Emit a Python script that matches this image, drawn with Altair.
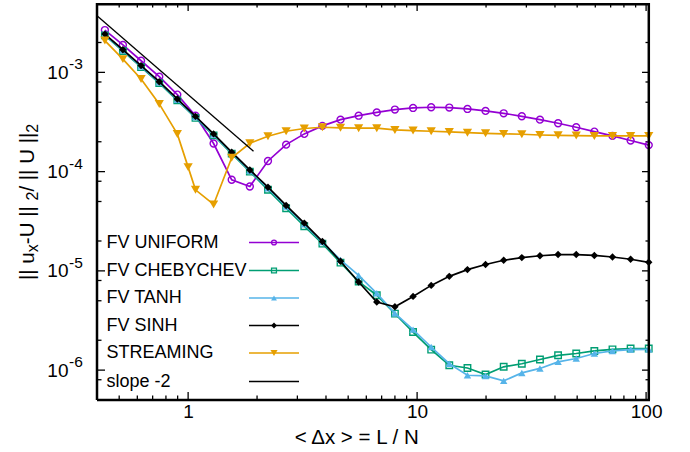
import altair as alt
import pandas as pd

# ---------------- data ----------------
x_grid = [0.433, 0.519, 0.623, 0.748, 0.897, 1.077, 1.292, 1.550, 1.860, 2.232,
          2.679, 3.215, 3.858, 4.629, 5.555, 6.666, 8.00, 9.60, 11.52, 13.82,
          16.59, 19.90, 23.88, 28.66, 34.39, 41.27, 49.53, 59.43, 71.32, 85.58, 102.7]
x_stream = [0.433, 0.519, 0.623, 0.748, 0.897, 1.0, 1.077, 1.292, 1.550, 1.860, 2.232,
            2.679, 3.215, 3.858, 4.629, 5.555, 6.666, 8.00, 9.60, 11.52, 13.82,
            16.59, 19.90, 23.88, 28.66, 34.39, 41.27, 49.53, 59.43, 71.32, 85.58, 102.7]

fv_uniform = [2.67e-3, 1.89e-3, 1.31e-3, 9.05e-4, 5.97e-4, 3.66e-4, 1.92e-4, 8.28e-5, 7.08e-5, 1.28e-4,
              1.87e-4, 2.40e-4, 2.89e-4, 3.34e-4, 3.66e-4, 3.95e-4, 4.22e-4, 4.38e-4, 4.45e-4, 4.42e-4,
              4.28e-4, 4.09e-4, 3.87e-4, 3.61e-4, 3.34e-4, 3.07e-4, 2.80e-4, 2.53e-4, 2.29e-4, 2.06e-4, 1.85e-4]
fv_cheby = [2.36e-3, 1.64e-3, 1.13e-3, 7.80e-4, 5.22e-4, 3.48e-4, 2.32e-4, 1.52e-4, 1.00e-4, 6.56e-5,
            4.28e-5, 2.82e-5, 1.88e-5, 1.21e-5, 7.80e-6, 5.68e-6, 3.71e-6, 2.42e-6, 1.61e-6, 1.12e-6,
            1.05e-6, 9.03e-7, 1.08e-6, 1.16e-6, 1.28e-6, 1.41e-6, 1.47e-6, 1.56e-6, 1.62e-6, 1.65e-6, 1.65e-6]
fv_tanh = [2.40e-3, 1.67e-3, 1.15e-3, 7.95e-4, 5.30e-4, 3.54e-4, 2.36e-4, 1.55e-4, 1.02e-4, 6.80e-5,
           4.45e-5, 2.95e-5, 1.95e-5, 1.29e-5, 9.00e-6, 5.94e-6, 3.73e-6, 2.56e-6, 1.71e-6, 1.16e-6,
           8.88e-7, 8.74e-7, 7.79e-7, 9.37e-7, 1.04e-6, 1.21e-6, 1.31e-6, 1.47e-6, 1.56e-6, 1.61e-6, 1.62e-6]
fv_sinh = [2.43e-3, 1.69e-3, 1.17e-3, 8.06e-4, 5.40e-4, 3.60e-4, 2.40e-4, 1.57e-4, 1.04e-4, 6.97e-5,
           4.56e-5, 3.03e-5, 1.98e-5, 1.25e-5, 7.73e-6, 4.85e-6, 4.35e-6, 5.53e-6, 7.14e-6, 8.81e-6,
           1.03e-5, 1.16e-5, 1.28e-5, 1.36e-5, 1.42e-5, 1.46e-5, 1.46e-5, 1.43e-5, 1.38e-5, 1.31e-5, 1.22e-5]
streaming = [2.09e-3, 1.36e-3, 8.59e-4, 4.81e-4, 2.40e-4, 1.11e-4, 6.56e-5, 4.67e-5, 1.38e-4, 1.93e-4,
             2.27e-4, 2.55e-4, 2.72e-4, 2.80e-4, 2.76e-4, 2.74e-4, 2.74e-4, 2.63e-4, 2.59e-4, 2.55e-4,
             2.51e-4, 2.47e-4, 2.43e-4, 2.40e-4, 2.38e-4, 2.34e-4, 2.32e-4, 2.31e-4, 2.29e-4, 2.29e-4,
             2.29e-4, 2.29e-4]
slope_x = [0.4, 1.93]
slope_y = [3.72e-3, 1.60e-4]

names = ["FV UNIFORM", "FV CHEBYCHEV", "FV TANH", "FV SINH", "STREAMING", "slope -2"]
colors = ["#9400d3", "#009e73", "#56b4e9", "#000000", "#e69f00", "#000000"]
shapes = ["circle", "square", "triangle-up", "diamond", "triangle-down"]
filled = [False, False, True, True, True]
sizes = [48, 42, 55, 55, 85]
legend_sizes = [24, 24, 34, 34, 50]

x_major = [1, 10, 100]
x_minor = [0.5, 0.6, 0.7, 0.8, 0.9, 2, 3, 4, 5, 6, 7, 8, 9, 20, 30, 40, 50, 60, 70, 80, 90]
y_major = [1e-3, 1e-4, 1e-5, 1e-6]
y_exp = ["-3", "-4", "-5", "-6"]
y_minor = [2e-3, 8e-4, 5e-4, 2e-4, 8e-5, 5e-5, 2e-5, 8e-6, 5e-6, 2e-6, 8e-7]

FONT = "Liberation Sans"
W, H = 553, 397
xs = alt.Scale(type="log", domain=[0.4, 104], nice=False)
ys = alt.Scale(type="log", domain=[5e-7, 5e-3], nice=False)

X_AX = alt.Axis(values=x_major, format="~g", title=None, grid=False, domain=False, ticks=False,
                tickSize=0, labelPadding=2, labelFontSize=19, labelFont=FONT, labelColor="black")
Y_AX = alt.Axis(values=y_major, labelExpr="'10'", title=None, grid=False, domain=False, ticks=False,
                tickSize=0, labelPadding=29, labelFontSize=19, labelFont=FONT, labelColor="black")


def X(field):
    return alt.X(field, type="quantitative", scale=xs, axis=X_AX)


def Y(field):
    return alt.Y(field, type="quantitative", scale=ys, axis=Y_AX)


layers = []
one = pd.DataFrame({"k": [0]})

# exponents of y tick labels
layers.append(
    alt.Chart(pd.DataFrame({"y": y_major, "t": y_exp})).mark_text(
        align="left", baseline="middle", font=FONT, fontSize=15.5, dy=-8, color="black"
    ).encode(x=alt.value(-28), y=Y("y"), text="t:N")
)


# ticks (inward, mirrored on all sides)
def xticks(vals, ln):
    d = pd.DataFrame({"v": vals})
    b = alt.Chart(d).mark_rule(color="black", strokeWidth=1.3, opacity=1)
    return [b.encode(x=X("v"), y=alt.value(H - 1), y2=alt.value(H - ln)),
            b.encode(x=X("v"), y=alt.value(1), y2=alt.value(ln))]


def yticks(vals, ln):
    d = pd.DataFrame({"v": vals})
    b = alt.Chart(d).mark_rule(color="black", strokeWidth=1.3, opacity=1)
    return [b.encode(y=Y("v"), x=alt.value(1), x2=alt.value(ln)),
            b.encode(y=Y("v"), x=alt.value(W - 1), x2=alt.value(W - ln))]


layers += xticks(x_major, 8) + xticks(x_minor, 4.5) + yticks(y_major, 8) + yticks(y_minor, 4.5)

# series
series = [(x_grid, fv_uniform), (x_grid, fv_cheby), (x_grid, fv_tanh), (x_grid, fv_sinh), (x_stream, streaming)]
for i, (xv, yv) in enumerate(series):
    d = pd.DataFrame({"x": xv, "y": yv})
    layers.append(alt.Chart(d).mark_line(color=colors[i], strokeWidth=1.7).encode(x=X("x"), y=Y("y")))
    if filled[i]:
        pt = alt.Chart(d).mark_point(shape=shapes[i], filled=True, color=colors[i], size=sizes[i], opacity=1)
    else:
        pt = alt.Chart(d).mark_point(shape=shapes[i], filled=False, color=colors[i], size=sizes[i],
                                     strokeWidth=1.4, opacity=1)
    layers.append(pt.encode(x=X("x"), y=Y("y")))

# slope -2 reference line
layers.append(
    alt.Chart(pd.DataFrame({"x": slope_x, "y": slope_y})).mark_line(color="black", strokeWidth=1.3).encode(
        x=X("x"), y=Y("y"))
)

# legend (gnuplot style: label, then sample)
row_y = [239.5, 267.5, 295, 322.5, 350, 378.5]
for i, nm in enumerate(names):
    yy = row_y[i]
    layers.append(alt.Chart(one).mark_text(align="left", baseline="middle", font=FONT, fontSize=18,
                                           color="black", text=nm).encode(x=alt.value(9.5), y=alt.value(yy)))
    layers.append(alt.Chart(one).mark_rule(color=colors[i], strokeWidth=1.7 if i < 5 else 1.3).encode(
        x=alt.value(152), x2=alt.value(202), y=alt.value(yy)))
    if i < 5:
        if filled[i]:
            m = alt.Chart(one).mark_point(shape=shapes[i], filled=True, color=colors[i],
                                          size=legend_sizes[i], opacity=1)
        else:
            m = alt.Chart(one).mark_point(shape=shapes[i], filled=False, color=colors[i],
                                          size=legend_sizes[i], strokeWidth=1.3, opacity=1)
        layers.append(m.encode(x=alt.value(177), y=alt.value(yy)))

# x axis title
layers.append(alt.Chart(one).mark_text(align="center", baseline="alphabetic", font=FONT, fontSize=20.5,
                                       color="black", text="< Δx > = L / N").encode(
    x=alt.value(259.7), y=alt.value(441)))

# y axis title built from pieces (rotated), with subscripts
yt_text = ["|| u", "x", "-U ||", "2", "/ || U ||", "2"]
yt_sub = [False, True, False, True, False, True]
yt_pos = [277, 249.2, 241.2, 197.5, 188.6, 129.7]
for t, s, p in zip(yt_text, yt_sub, yt_pos):
    layers.append(alt.Chart(one).mark_text(align="left", baseline="alphabetic", angle=270, font=FONT,
                                           fontSize=16 if s else 20.5, color="black", text=t).encode(
        x=alt.value(-59 if s else -63), y=alt.value(p)))

# plot frame (drawn last), lines kept just inside the plot rectangle
fr = alt.Chart(one).mark_rule(color="black", strokeWidth=2.5, opacity=1)
layers += [
    fr.encode(x=alt.value(0), x2=alt.value(W), y=alt.value(1.2)),
    fr.encode(x=alt.value(0), x2=alt.value(W), y=alt.value(H)),
    fr.encode(x=alt.value(0), y=alt.value(0), y2=alt.value(H)),
    fr.encode(x=alt.value(W - 1.2), y=alt.value(0), y2=alt.value(H)),
]

chart = alt.layer(*layers).properties(
    width=W, height=H, autosize=alt.AutoSizeParams(type="none"),
    padding={"left": 97, "top": 3, "right": 40, "bottom": 52}
).configure_view(stroke=None)

chart.save("out.html", embed_options={"renderer": "svg", "actions": False})
